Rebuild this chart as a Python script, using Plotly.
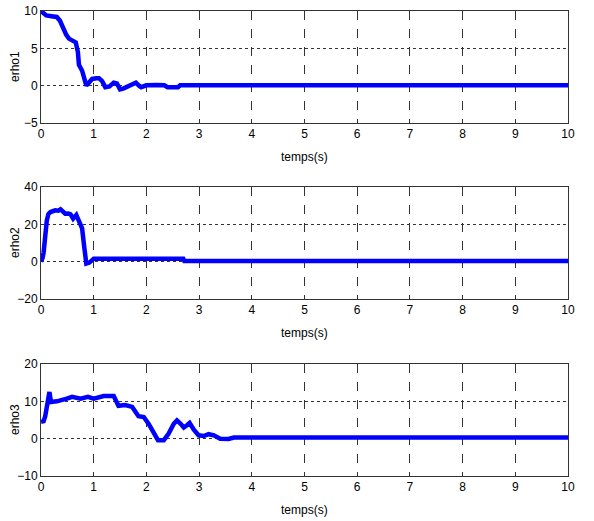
import plotly.graph_objects as go
from plotly.subplots import make_subplots

# erho1 data
t1 = [0, 0.05, 0.1, 0.2, 0.3, 0.36, 0.43, 0.48, 0.53, 0.6, 0.66, 0.7, 0.72, 0.75, 0.78, 0.82, 0.86, 0.92, 0.97, 1.05, 1.1, 1.16, 1.22, 1.3, 1.38, 1.44, 1.5, 1.56, 1.63, 1.72, 1.8, 1.86, 1.9, 2.0, 2.1, 2.2, 2.34, 2.4, 2.6, 2.64, 3.0, 5.0, 10.0]
erho1 = [10, 9.7, 9.4, 9.3, 9.2, 8.7, 7.4, 6.8, 6.3, 6.0, 5.8, 4.5, 2.8, 2.4, 2.0, 1.0, 0.0, 0.5, 0.9, 1.0, 1.0, 0.6, -0.2, -0.1, 0.4, 0.3, -0.5, -0.4, -0.2, 0.1, 0.4, 0.0, -0.2, 0.05, 0.1, 0.1, 0.05, -0.2, -0.2, 0.05, 0.05, 0.05, 0.05]

# erho2 data
t2 = [0, 0.03, 0.05, 0.08, 0.11, 0.14, 0.18, 0.27, 0.33, 0.37, 0.42, 0.46, 0.52, 0.56, 0.61, 0.64, 0.67, 0.7, 0.73, 0.78, 0.82, 0.86, 0.92, 1.0, 1.5, 2.0, 2.7, 2.72, 5.0, 10.0]
erho2 = [0, 2, 5, 14, 22, 25.5, 26.6, 27.5, 27.3, 28, 26.5, 25.7, 25.8, 25.4, 23, 24, 25, 23, 20.4, 17.8, 8, -1, -0.5, 1.6, 1.5, 1.5, 1.5, 0.3, 0.3, 0.3]

# erho3 data
t3 = [0, 0.05, 0.08, 0.11, 0.16, 0.19, 0.3, 0.49, 0.59, 0.75, 0.89, 1.0, 1.19, 1.38, 1.42, 1.47, 1.6, 1.73, 1.85, 1.95, 2.04, 2.14, 2.22, 2.33, 2.42, 2.52, 2.58, 2.65, 2.71, 2.77, 2.82, 2.9, 2.99, 3.09, 3.18, 3.28, 3.4, 3.56, 3.66, 5.0, 10.0]
erho3 = [4.5, 4.7, 6.0, 8.5, 12.5, 9.8, 10.0, 10.7, 11.2, 10.7, 11.2, 10.7, 11.4, 11.4, 10.5, 8.8, 9.0, 8.5, 6.0, 5.8, 4.0, 1.3, -0.4, -0.4, 1.3, 4.0, 4.9, 4.0, 3.0, 3.6, 4.2, 2.4, 0.9, 0.7, 1.2, 0.9, 0.0, -0.1, 0.3, 0.3, 0.3]

series = [(t1, erho1, "erho1", [-5, 0, 5, 10]),
          (t2, erho2, "erho2", [-20, 0, 20, 40]),
          (t3, erho3, "erho3", [-10, 0, 10, 20])]
x_ticks = list(range(0, 11))
x_title = "temps(s)"

font_family = "Liberation Sans Narrow, Arial Narrow, Liberation Sans, Arial, sans-serif"
W, H = 594, 521
L, R, T, B = 41, 26, 11, 45
ph = H - T - B  # plot-area height in px

def py(pix):
    return (H - B - pix) / ph

fig = make_subplots(rows=3, cols=1, vertical_spacing=0.1)
panel_px = [(11, 123), (187, 299), (364, 476)]
domains = [[py(b), py(t)] for (t, b) in panel_px]

for i, (t, y, name, yt) in enumerate(series, start=1):
    fig.add_trace(go.Scatter(x=t, y=y, mode="lines", line=dict(color="#0000ff", width=4.5),
                             showlegend=False, hoverinfo="skip"), row=i, col=1)
    fig.update_xaxes(row=i, col=1, range=[0, 10], tickvals=x_ticks, automargin=False,
                     showgrid=True, gridcolor="#333333", griddash="dash", gridwidth=1,
                     showline=True, mirror=True, linecolor="#333333", linewidth=1,
                     zeroline=False, ticks="", ticklen=0,
                     tickfont=dict(size=12, color="black", family=font_family))
    fig.update_yaxes(row=i, col=1, range=[yt[0], yt[-1]], tickvals=yt, automargin=False,
                     showgrid=True, gridcolor="#333333", griddash="dot", gridwidth=1,
                     showline=True, mirror=True, linecolor="#333333", linewidth=1,
                     zeroline=False, ticks="", ticklen=0, ticklabeloverflow="allow",
                     tickfont=dict(size=12, color="black", family=font_family),
                     domain=domains[i-1])
    top, bot = panel_px[i-1]
    # x-axis title
    fig.add_annotation(text=x_title, xref="paper", yref="paper", x=0.5, y=py(bot + 34),
                       xanchor="center", yanchor="middle", showarrow=False,
                       font=dict(size=12, color="black", family=font_family))
    # y-axis title
    fig.add_annotation(text=name, xref="paper", yref="paper", x=(15 - L) / (W - L - R),
                       y=py((top + bot) / 2), xanchor="center", yanchor="middle",
                       textangle=-90, showarrow=False,
                       font=dict(size=12, color="black", family=font_family))

fig.update_layout(width=W, height=H, margin=dict(l=L, r=R, t=T, b=B),
                  plot_bgcolor="white", paper_bgcolor="white",
                  font=dict(family=font_family))

fig.write_html("out.html", config={"displayModeBar": False},
               post_script="document.body.style.margin='0px';document.body.style.overflow='hidden';")
